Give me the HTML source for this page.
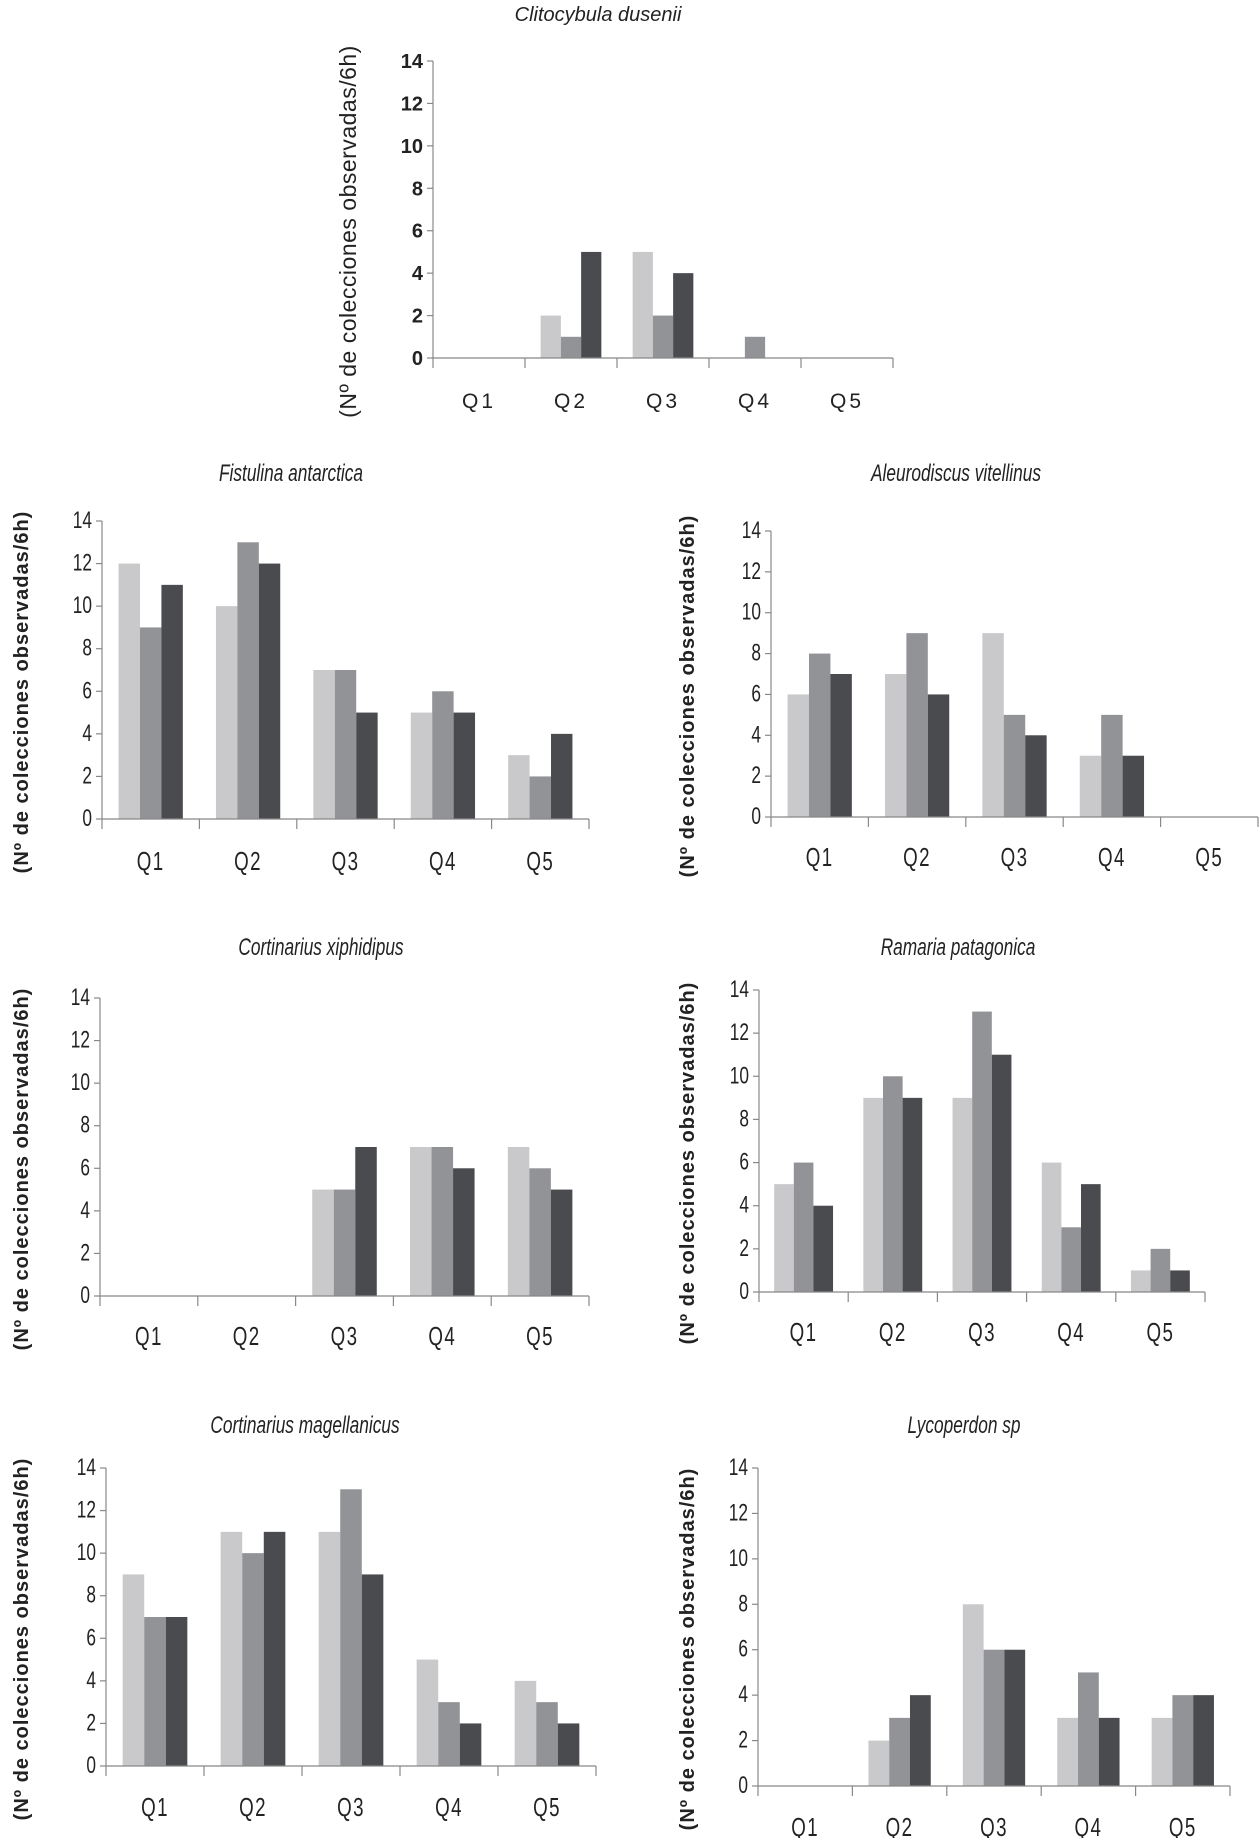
<!DOCTYPE html>
<html><head><meta charset="utf-8"><style>
html,body{margin:0;padding:0;background:#fff;}
svg{display:block;}
text{font-family:"Liberation Sans",sans-serif;fill:#222;}
</style></head><body>
<svg id="c" width="1260" height="1838" viewBox="0 0 1260 1838"></svg>
<script>
const categories=["Q1","Q2","Q3","Q4","Q5"];
const yTicks=[0,2,4,6,8,10,12,14];
const titles=["Clitocybula dusenii","Fistulina antarctica","Aleurodiscus vitellinus","Cortinarius xiphidipus","Ramaria patagonica","Cortinarius magellanicus","Lycoperdon sp"];
const lightVals=[[0,2,5,0,0],[12,10,7,5,3],[6,7,9,3,0],[0,0,5,7,7],[5,9,9,6,1],[9,11,11,5,4],[0,2,8,3,3]];
const midVals=[[0,1,2,1,0],[9,13,7,6,2],[8,9,5,5,0],[0,0,5,7,6],[6,10,13,3,2],[7,10,13,3,3],[0,3,6,5,4]];
const darkVals=[[0,5,4,0,0],[11,12,5,5,4],[7,6,4,3,0],[0,0,7,6,5],[4,9,11,5,1],[7,11,9,2,2],[0,4,6,3,4]];
const yLabels=["(Nº de colecciones observadas/6h)","(Nº de colecciones observadas/6h)","(Nº de colecciones observadas/6h)","(Nº de colecciones observadas/6h)","(Nº de colecciones observadas/6h)","(Nº de colecciones observadas/6h)","(Nº  de colecciones observadas/6h)"];
const L=[
 {ax:433,top:61,zero:358,right:893,lab:400,ty:13,tx:598,yl:342,cond:false},
 {ax:102,top:521,zero:819,right:589,lab:862,ty:473,tx:291,yl:14,cond:true},
 {ax:771,top:531,zero:817,right:1258,lab:858,ty:473,tx:956,yl:680,cond:true},
 {ax:100,top:998,zero:1296,right:589,lab:1337,ty:947,tx:321,yl:14,cond:true},
 {ax:759,top:990,zero:1292,right:1205,lab:1333,ty:947,tx:958,yl:680,cond:true},
 {ax:106,top:1468,zero:1766,right:596,lab:1808,ty:1425,tx:305,yl:14,cond:true},
 {ax:758,top:1468,zero:1786,right:1230,lab:1828,ty:1425,tx:964,yl:680,cond:true}
];
const colors=["#c9c9cb","#929397","#4a4b4f"];
const NS="http://www.w3.org/2000/svg";
const svg=document.getElementById('c');
function mk(tag,attrs,parent,txt){const e=document.createElementNS(NS,tag);for(const k in attrs)e.setAttribute(k,attrs[k]);if(txt!==undefined)e.textContent=txt;parent.appendChild(e);return e;}
L.forEach((p,i)=>{
  const g=mk('g',{},svg);
  
  
  const yS=v=>p.zero-(v/14)*(p.zero-p.top);
  const cw=(p.right-p.ax)/categories.length;
  const xS=k=>p.ax+k*cw;
  const sx=p.cond?0.72:1;
  const t=mk('text',{x:0,y:0,'font-size':p.cond?24:20,'font-style':'italic','text-anchor':'middle',fill:'#333',transform:`translate(${p.tx},${p.ty+8}) scale(${sx},1)`},g,titles[i]);
  
  
  const yl=mk('text',{x:0,y:0,'font-size':p.cond?20:23,'font-weight':p.cond?'bold':'normal','letter-spacing':p.cond?1:0.5,'text-anchor':'middle',fill:'#333',transform:`translate(${p.yl+14},${(p.top+p.zero)/2+22}) rotate(-90)`},g,yLabels[i]);
  
  
  [lightVals,midVals,darkVals].forEach((s,si)=>{
    s[i].forEach((v,k)=>{
      if(!v)return;
      const r=mk('rect',{x:xS(k)+cw*0.17+si*cw*0.22,y:yS(v),width:cw*0.22,height:yS(0)-yS(v),fill:colors[si]},g);
      
      
    });
  });
  mk('line',{x1:p.ax,y1:p.top,x2:p.ax,y2:p.zero,stroke:'#888','stroke-width':1.2},g);
  mk('line',{x1:p.ax,y1:p.zero,x2:p.right,y2:p.zero,stroke:'#888','stroke-width':1.2},g);
  yTicks.forEach(v=>{
    mk('line',{x1:p.ax-6,y1:yS(v),x2:p.ax,y2:yS(v),stroke:'#888','stroke-width':1.2},g);
    const tt=mk('text',{x:0,y:0,'font-size':p.cond?24:20,'font-weight':p.cond?'normal':'bold','text-anchor':'end',fill:'#222',transform:`translate(${p.ax-10},${yS(v)+7}) scale(${sx},1)`},g,String(v));
    
    
  });
  for(let k=0;k<=categories.length;k++){
    mk('line',{x1:xS(k),y1:p.zero,x2:xS(k),y2:p.zero+10,stroke:'#888','stroke-width':1.2},g);
  }
  categories.forEach((c,k)=>{
    const ct=mk('text',{x:0,y:0,'font-size':p.cond?26:21,'text-anchor':'middle','letter-spacing':p.cond?2:3,fill:'#222',transform:`translate(${xS(k)+cw/2},${p.lab+8}) scale(${sx},1)`},g,c);
    
    
  });
});
</script>
</body></html>
